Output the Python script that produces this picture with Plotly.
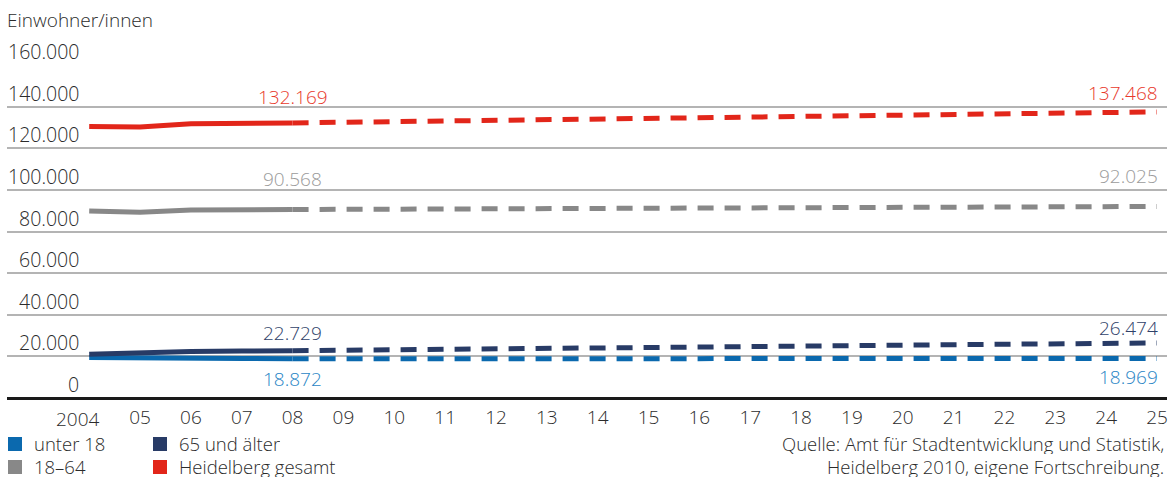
import plotly.graph_objects as go

# Bevölkerung Heidelberg: Bestand 2004–2008, Vorausrechnung 2008–2025
years_hist = [2004, 2005, 2006, 2007, 2008]
years_proj = list(range(2008, 2026))

gesamt_hist = [130400, 130200, 131800, 132100, 132169]
gesamt_proj = [132169, 132450, 132750, 133050, 133300, 133600, 133900, 134200, 134500,
               134800, 135100, 135400, 135700, 136000, 136350, 136700, 137050, 137468]

mittel_hist = [89850, 89300, 90300, 90500, 90568]
mittel_proj = [90568, 90650, 90750, 90850, 90920, 91000, 91100, 91180, 91250,
               91350, 91430, 91500, 91600, 91680, 91750, 91850, 91940, 92025]

senior_hist = [21050, 22000, 22400, 22600, 22729]
senior_proj = [22729, 22950, 23150, 23400, 23600, 23800, 24050, 24250, 24450,
               24700, 24900, 25100, 25350, 25550, 25800, 26000, 26250, 26474]

jung_hist = [19500, 19150, 19000, 18950, 18872]
jung_proj = [18872, 18880, 18890, 18890, 18900, 18910, 18910, 18920, 18930,
             18930, 18940, 18940, 18950, 18950, 18955, 18960, 18965, 18969]

y_ticks = [0, 20000, 40000, 60000, 80000, 100000, 120000, 140000, 160000]
x_ticks = list(range(2004, 2026))
x_ticktext = ["2004"] + [f"{y % 100:02d}" for y in range(2005, 2026)]

series = [
    # name, hist, proj, line colour, label colour, label shift (2008, 2025)
    ("unter 18", jung_hist, jung_proj, "#0b69ae", "#2a86c6", (-20, -18)),
    ("65 und älter", senior_hist, senior_proj, "#283b66", "#2f4169", (18, 15)),
    ("18–64", mittel_hist, mittel_proj, "#888888", "#9b9b9b", (31, 30)),
    ("Heidelberg gesamt", gesamt_hist, gesamt_proj, "#e2261a", "#e8392c", (26, 19)),
]

FONT = "Open Sans"
WEIGHT = 300
TXT = "#2b2b2b"
W, H = 1169, 477
ML, MR, MT, MB = 7, 2, 65, 79


def px_x(p):
    return (p - ML) / (W - ML - MR)


def px_y(p):
    return (H - MB - p) / (H - MT - MB)


def de(v):
    return f"{v:,}".replace(",", ".")


def font(size=18.5, color=TXT):
    return dict(family=FONT, size=size, color=color, weight=WEIGHT)


fig = go.Figure()
annotations = []
shapes = []

for name, hist, proj, col, lcol, (s08, s25) in series:
    fig.add_trace(go.Scatter(x=years_hist, y=hist, mode="lines", name=name,
                             line=dict(color=col, width=5), showlegend=False,
                             hoverinfo="skip"))
    fig.add_trace(go.Scatter(x=years_proj, y=proj, mode="lines", name=name,
                             line=dict(color=col, width=5, dash="16px,11px"),
                             showlegend=False, hoverinfo="skip"))
    annotations.append(dict(x=years_hist[-1], y=hist[-1], xref="x", yref="y",
                            text=de(hist[-1]), showarrow=False, xanchor="center",
                            yanchor="middle", yshift=s08, font=font(19, lcol)))
    annotations.append(dict(x=years_proj[-1], y=proj[-1], xref="x", yref="y",
                            text=de(proj[-1]), showarrow=False, xanchor="right",
                            yanchor="middle", yshift=s25, xshift=3,
                            font=font(19, lcol)))

# y-Achsenbeschriftung über den Gitterlinien
for v in y_ticks:
    annotations.append(dict(x=px_x(78), y=v, xref="paper", yref="y", text=de(v),
                            showarrow=False, xanchor="right", yanchor="bottom",
                            yshift=-2, xshift=3, font=font(19.5)))

annotations.append(dict(x=px_x(7), y=px_y(20), xref="paper", yref="paper",
                        text="Einwohner/innen", showarrow=False, xanchor="left",
                        yanchor="middle", xshift=-2, font=font(19)))

# Legende (kompakte Textboxen, damit die Zeilen nicht kollidieren)
legend_items = [
    ("unter 18", "#0b69ae", 8, 443),
    ("18–64", "#888888", 8, 466),
    ("65 und älter", "#283b66", 153, 443),
    ("Heidelberg gesamt", "#e2261a", 153, 466),
]
for label, col, lx, ly in legend_items:
    shapes.append(dict(type="rect", xref="paper", yref="paper",
                       x0=px_x(lx), x1=px_x(lx + 14), y0=px_y(ly - 6), y1=px_y(ly + 8),
                       fillcolor=col, line=dict(width=0)))
    annotations.append(dict(x=px_x(lx + 24), y=px_y(ly), xref="paper", yref="paper",
                            text=label, showarrow=False, xanchor="left",
                            yanchor="middle", height=22, font=font(18.5)))

annotations.append(dict(x=px_x(1166), y=px_y(443), xref="paper", yref="paper",
                        text="Quelle: Amt für Stadtentwicklung und Statistik,",
                        showarrow=False, xanchor="right", yanchor="middle",
                        height=22, font=font(18.5)))
annotations.append(dict(x=px_x(1166), y=px_y(466), xref="paper", yref="paper",
                        text="Heidelberg 2010, eigene Fortschreibung.",
                        showarrow=False, xanchor="right", yanchor="middle",
                        height=22, font=font(18.5)))

# Jahresbeschriftung 2004 etwas nach links versetzt
annotations.append(dict(x=2004, y=0, xref="x", yref="y", text="2004",
                        showarrow=False, xanchor="center", yanchor="top",
                        xshift=-11, yshift=-6, font=font(19)))

px_per_year = (1157 - 89.2) / 21
x_min = 2004 - (89.2 - ML) / px_per_year
x_max = 2025 + (W - MR - 1157) / px_per_year

fig.update_layout(
    width=W, height=H,
    margin=dict(l=ML, r=MR, t=MT, b=MB),
    paper_bgcolor="white", plot_bgcolor="white",
    showlegend=False,
    annotations=annotations,
    shapes=shapes,
    xaxis=dict(range=[x_min, x_max], tickvals=x_ticks[1:], ticktext=x_ticktext[1:],
               showgrid=False, zeroline=False, showline=False, ticks="",
               ticklabelstandoff=6, tickfont=font(19), fixedrange=True),
    yaxis=dict(range=[0, 160000], tickvals=y_ticks, showticklabels=False,
               showgrid=True, gridcolor="#b4b4b4", gridwidth=1.5,
               zeroline=True, zerolinecolor="#1a1a1a", zerolinewidth=2.5,
               showline=False, ticks="", fixedrange=True),
)

fig.write_html("out.html")
